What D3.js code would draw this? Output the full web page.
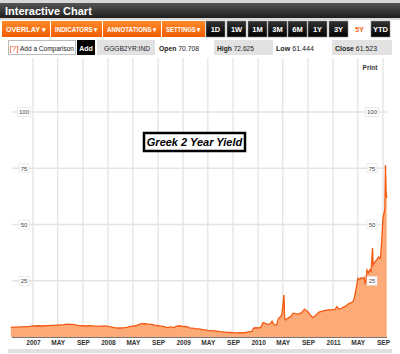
<!DOCTYPE html>
<html><head><meta charset="utf-8">
<script src="https://cdn.jsdelivr.net/npm/d3@7"></script>
<style>
html,body{margin:0;padding:0;background:#fff;}
svg{display:block;font-family:"Liberation Sans",Arial,Helvetica,sans-serif;}
</style></head>
<body>
<script>
const title = "Greek 2 Year Yield";
const dates = ["2006-09-15","2006-10-01","2006-10-15","2006-11-01","2006-11-15","2006-12-01","2006-12-15",
"2007-01-01","2007-01-15","2007-02-01","2007-02-15","2007-03-01","2007-03-15","2007-04-01","2007-04-15","2007-05-01","2007-05-15","2007-06-01","2007-06-15","2007-07-01","2007-07-15","2007-08-01","2007-08-15","2007-09-01","2007-09-15","2007-10-01","2007-10-15","2007-11-01","2007-11-15","2007-12-01","2007-12-15",
"2008-01-01","2008-01-15","2008-02-01","2008-02-15","2008-03-01","2008-03-15","2008-04-01","2008-04-15","2008-05-01","2008-05-15","2008-06-01","2008-06-15","2008-07-01","2008-07-15","2008-08-01","2008-08-15","2008-09-01","2008-09-15","2008-10-01","2008-10-15","2008-11-01","2008-11-15","2008-12-01","2008-12-15",
"2009-01-01","2009-01-15","2009-02-01","2009-02-15","2009-03-01","2009-03-15","2009-04-01","2009-04-15","2009-05-01","2009-05-15","2009-06-01","2009-06-15","2009-07-01","2009-07-15","2009-08-01","2009-08-15","2009-09-01","2009-09-15","2009-10-01","2009-10-15","2009-11-01","2009-11-15","2009-12-01","2009-12-10","2009-12-20",
"2010-01-01","2010-01-15","2010-01-25","2010-02-05","2010-02-15","2010-03-01","2010-03-10","2010-03-20","2010-04-01","2010-04-10","2010-04-20","2010-04-27","2010-05-07","2010-05-10","2010-05-14","2010-05-25","2010-06-10","2010-06-20","2010-07-01","2010-07-15","2010-08-01","2010-08-15","2010-09-01","2010-09-10","2010-09-25","2010-10-10","2010-10-25","2010-11-10","2010-11-25","2010-12-10","2010-12-25",
"2011-01-10","2011-01-20","2011-01-28","2011-02-10","2011-02-25","2011-03-10","2011-03-20","2011-04-01","2011-04-08","2011-04-15","2011-04-25","2011-05-02","2011-05-10","2011-05-18","2011-05-25","2011-06-01","2011-06-07","2011-06-10","2011-06-15","2011-06-22","2011-06-29","2011-07-05","2011-07-12","2011-07-15","2011-07-22","2011-08-01","2011-08-10","2011-08-20","2011-08-27","2011-09-01","2011-09-06","2011-09-10","2011-09-13","2011-09-16","2011-09-19"];
const yields = [4.3,4.4,4.4,4.5,4.5,4.6,4.7,
4.9,4.9,5.0,4.9,5.0,5.1,5.2,5.2,5.3,5.4,5.5,5.7,5.6,5.6,5.3,5.1,5.0,4.9,5.0,4.9,4.8,4.7,4.8,4.9,
4.7,4.5,4.2,4.0,4.0,4.1,4.3,4.6,4.8,5.0,5.6,5.9,5.9,5.7,5.6,5.3,5.0,4.8,4.6,4.2,4.5,4.2,4.8,5.0,
4.6,4.7,4.1,3.9,3.7,3.6,3.4,3.2,2.9,2.8,2.7,2.6,2.4,2.3,2.1,2.0,1.9,1.8,1.9,1.9,2.0,2.3,2.5,4.0,4.1,
4.0,4.4,6.4,6.1,5.6,5.8,7.0,5.5,5.3,8.3,9.0,10.2,18.7,8.5,7.6,8.3,9.2,10.6,10.4,10.2,10.8,12.4,11.1,10.0,8.6,9.8,11.1,11.5,11.8,12.0,12.1,
12.3,13.5,12.4,12.7,13.4,14.2,15.0,15.3,15.7,17.6,22.4,26.1,25.5,26.4,25.9,26.5,23.5,25.5,29.8,28.5,29.9,29.2,39.5,32.0,33.2,34.2,35.6,35.0,45,53,55,57,76.4,65,61.8];
const yTicks = [25,50,75,100];
const xTickDates = ["2007-01-01","2007-05-01","2007-09-01","2008-01-01","2008-05-01","2008-09-01","2009-01-01","2009-05-01","2009-09-01","2010-01-01","2010-05-01","2010-09-01","2011-01-01","2011-05-01","2011-09-01"];
const xTickLabels = ["2007","MAY","SEP","2008","MAY","SEP","2009","MAY","SEP","2010","MAY","SEP","2011","MAY","SEP"];
const menuButtons = ["OVERLAY","INDICATORS","ANNOTATIONS","SETTINGS"];
const rangeButtons = ["1D","1W","1M","3M","6M","1Y","3Y","5Y","YTD"];
const quote = {symbol:"GGGB2YR:IND", open:"70.708", high:"72.625", low:"61.444", close:"61.523"};

const parse = d3.timeParse("%Y-%m-%d");
const data = dates.map((d,i)=>({date:parse(d), v:yields[i]}));

const svg = d3.select("body").append("svg").attr("width",400).attr("height",354);
const defs = svg.append("defs");
const g1 = defs.append("linearGradient").attr("id","dark").attr("x1",0).attr("y1",0).attr("x2",0).attr("y2",1);
g1.append("stop").attr("offset","0").attr("stop-color","#555");
g1.append("stop").attr("offset","1").attr("stop-color","#1e1e1e");
const g2 = defs.append("linearGradient").attr("id","orange").attr("x1",0).attr("y1",0).attr("x2",0).attr("y2",1);
g2.append("stop").attr("offset","0").attr("stop-color","#ff8a2a");
g2.append("stop").attr("offset","1").attr("stop-color","#f25c00");
const g3 = defs.append("linearGradient").attr("id","blk").attr("x1",0).attr("y1",0).attr("x2",0).attr("y2",1);
g3.append("stop").attr("offset","0").attr("stop-color","#333");
g3.append("stop").attr("offset","1").attr("stop-color","#000");

// header
svg.append("rect").attr("x",0).attr("y",0).attr("width",400).attr("height",20).attr("fill","#d8d8d8");
svg.append("rect").attr("x",0).attr("y",3).attr("width",400).attr("height",15).attr("fill","url(#dark)");
svg.append("text").attr("x",5).attr("y",14.5).attr("fill","#fff").attr("font-size",11).attr("font-weight","bold").text("Interactive Chart");

// menu row
const menuX = [2,51,103,162], menuW = [48,51,58,43];
menuButtons.forEach((m,i)=>{
  svg.append("rect").attr("x",menuX[i]).attr("y",21).attr("width",menuW[i]).attr("height",16).attr("fill","url(#orange)");
  svg.append("text").attr("x",menuX[i]+menuW[i]/2).attr("y",31.5).attr("text-anchor","middle").attr("fill","#fff")
    .attr("font-size",6.8).attr("font-weight","bold")
    .attr("textLength",menuW[i]-8).attr("lengthAdjust","spacingAndGlyphs").text(m+" \u25BE");
});
const rx = [206,227,248,268,288,308,329,350,371];
rangeButtons.forEach((b,i)=>{
  if(b!=="5Y"){
    svg.append("rect").attr("x",rx[i]).attr("y",21).attr("width",19).attr("height",16).attr("fill","url(#blk)").attr("stroke","#888").attr("stroke-width",0.6);
  }
  svg.append("text").attr("x",rx[i]+9.5).attr("y",32).attr("text-anchor","middle").attr("fill",b==="5Y"?"#f26a1a":"#fff")
    .attr("font-size",7.5).attr("font-weight","bold").text(b);
});

// info row
svg.append("rect").attr("x",8.5).attr("y",40.5).attr("width",67).attr("height",14).attr("fill","#fff").attr("stroke","#bbb");
svg.append("text").attr("x",9.5).attr("y",50.5).attr("font-size",7).attr("fill","#e8501a").attr("textLength",9).attr("lengthAdjust","spacingAndGlyphs").text("[?]");
svg.append("text").attr("x",20).attr("y",50.5).attr("font-size",7).attr("fill","#222").attr("textLength",54).attr("lengthAdjust","spacingAndGlyphs").text("Add a Comparison");
svg.append("rect").attr("x",77).attr("y",40).attr("width",18).attr("height",15).attr("fill","#000");
svg.append("text").attr("x",86).attr("y",50.5).attr("text-anchor","middle").attr("font-size",7).attr("font-weight","bold").attr("fill","#fff").text("Add");
svg.append("rect").attr("x",97).attr("y",40).attr("width",58).attr("height",15).attr("fill","#e2e2e2");
svg.append("text").attr("x",104).attr("y",50.5).attr("font-size",7.3).attr("fill","#222").attr("textLength",46).attr("lengthAdjust","spacingAndGlyphs").text(quote.symbol);
function info(x, w, label, val, bg, tl){
  if(bg) svg.append("rect").attr("x",x).attr("y",40).attr("width",w).attr("height",15).attr("fill","#e2e2e2");
  const t = svg.append("text").attr("x",x+3).attr("y",50.5).attr("font-size",7.3).attr("fill","#222")
    .attr("textLength",tl).attr("lengthAdjust","spacingAndGlyphs");
  t.append("tspan").attr("font-weight","bold").text(label+" ");
  t.append("tspan").text(val);
}
info(156,56,"Open",quote.open,false,40);
info(214,59,"High",quote.high,true,37);
info(273,58,"Low",quote.low,false,38);
info(332,60,"Close",quote.close,true,42);

// chart
const x = d3.scaleTime().domain([parse("2007-01-01"), parse("2011-09-01")]).range([33,383]);
const y = d3.scaleLinear().domain([0,124]).range([337,58]);
const left = 12, right = 387;

// vertical grid
svg.append("g").selectAll("line").data(xTickDates).join("line")
  .attr("x1",d=>x(parse(d))).attr("x2",d=>x(parse(d))).attr("y1",58).attr("y2",337)
  .attr("stroke","#e4e4e4").attr("stroke-width",1.3);
// horizontal grid
svg.append("g").selectAll("line").data(yTicks).join("line")
  .attr("x1",left).attr("x2",right).attr("y1",d=>y(d)).attr("y2",d=>y(d))
  .attr("stroke","#e4e4e4").attr("stroke-width",1.3);

svg.append("text").attr("x",370).attr("y",70).attr("text-anchor","middle").attr("font-size",6.5).attr("font-weight","bold").attr("fill","#333").text("Print");

// area + line
const area = d3.area().x(d=>x(d.date)).y0(y(0)).y1(d=>y(d.v));
const line = d3.line().x(d=>x(d.date)).y(d=>y(d.v));
svg.append("path").datum(data).attr("d",area).attr("fill","#fcab78");
svg.append("path").datum(data).attr("d",line).attr("fill","none").attr("stroke","#f45a12").attr("stroke-width",1.3);

// baseline
svg.append("line").attr("x1",left).attr("x2",right).attr("y1",337.5).attr("y2",337.5).attr("stroke","#777").attr("stroke-width",1);

// y labels (left & right)
[24, 372].forEach(cx=>{
  const gl = svg.append("g").selectAll("g").data(yTicks).join("g").attr("transform",d=>`translate(${cx},${y(d)})`);
  gl.append("rect").attr("x",d=>d>=100?-6.5:-5).attr("y",-4.5).attr("width",d=>d>=100?13:10).attr("height",9)
    .attr("fill","#fff").attr("stroke","#ddd").attr("stroke-width",0.6);
  gl.append("text").attr("text-anchor","middle").attr("y",2.3).attr("font-size",6).attr("fill","#444").text(d=>d);
});

// x labels
const xAxis = d3.axisBottom(x).tickValues(xTickDates.map(parse)).tickSize(0).tickFormat((d,i)=>xTickLabels[i]);
const xa = svg.append("g").attr("transform","translate(0,337)").call(xAxis);
xa.select(".domain").remove();
xa.selectAll("text").attr("font-size",6.5).attr("font-weight","bold").attr("fill","#333").attr("dy",0).attr("y",8)
  .attr("font-family","Liberation Sans, Arial, sans-serif");

// bottom bar
svg.append("rect").attr("x",8).attr("y",349).attr("width",384).attr("height",4).attr("fill","#e0e0e0");

// title box
svg.append("rect").attr("x",144).attr("y",133).attr("width",101).attr("height",18).attr("fill","#fff").attr("stroke","#000").attr("stroke-width",2.5);
svg.append("text").attr("x",194.5).attr("y",146).attr("text-anchor","middle").attr("font-size",11).attr("font-style","italic").attr("font-weight","bold").attr("fill","#000").text(title);
</script>
</body></html>
